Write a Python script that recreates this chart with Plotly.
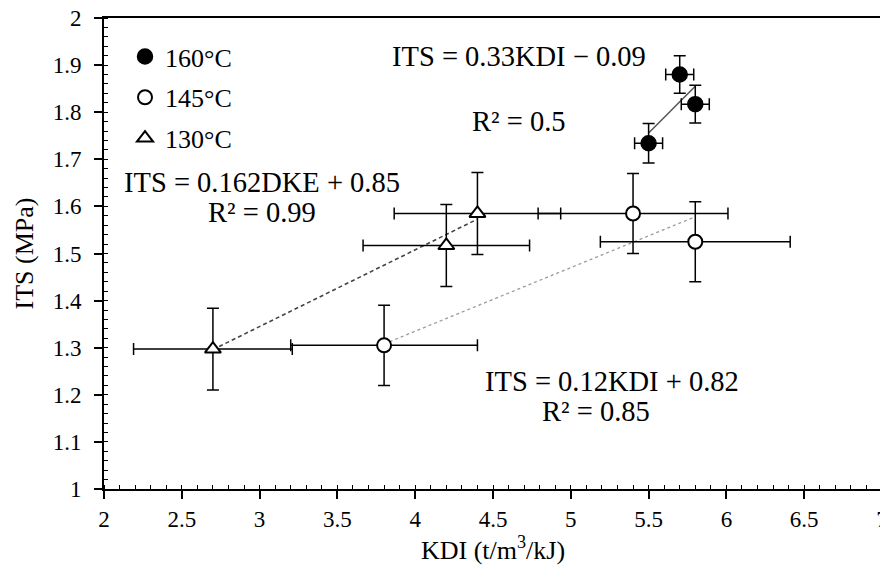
import plotly.graph_objects as go

# ---- data ----
kdi_160 = [5.5, 5.7, 5.8]
its_160 = [1.734, 1.880, 1.817]
kdi_err_160 = [0.09, 0.09, 0.09]
its_err_160 = [0.042, 0.040, 0.040]

kdi_145 = [3.8, 5.4, 5.8]
its_145 = [1.305, 1.585, 1.525]
kdi_err_145 = [0.60, 0.61, 0.61]
its_err_145 = [0.085, 0.085, 0.085]

kdi_130 = [2.7, 4.2, 4.4]
its_130 = [1.297, 1.517, 1.585]
kdi_err_130 = [0.51, 0.535, 0.535]
its_err_130 = [0.087, 0.087, 0.087]

trend_160_x = [5.5, 5.8]
trend_160_y = [1.756, 1.855]
trend_145_x = [3.8, 5.8]
trend_145_y = [1.308, 1.578]
trend_130_x = [2.7, 4.4]
trend_130_y = [1.296, 1.573]

series_names = ["160°C", "145°C", "130°C"]

FONT = "Liberation Serif"

fig = go.Figure()

# trend lines
fig.add_trace(go.Scatter(x=trend_160_x, y=trend_160_y, mode="lines",
                         line=dict(color="#555555", width=1.5), showlegend=False, hoverinfo="skip"))
fig.add_trace(go.Scatter(x=trend_145_x, y=trend_145_y, mode="lines",
                         line=dict(color="#9a9a9a", width=1.3, dash="dot"), showlegend=False, hoverinfo="skip"))
fig.add_trace(go.Scatter(x=trend_130_x, y=trend_130_y, mode="lines",
                         line=dict(color="#444444", width=1.6, dash="4px,3px"), showlegend=False, hoverinfo="skip"))

def err(arr):
    return dict(type="data", array=arr, visible=True, color="black", thickness=1.5, width=6)

fig.add_trace(go.Scatter(
    x=kdi_160, y=its_160, mode="markers", name=series_names[0], legendgroup="a",
    marker=dict(symbol="circle", size=15, color="black", line=dict(color="black", width=1.5)),
    error_x=err(kdi_err_160), error_y=err(its_err_160)))
fig.add_trace(go.Scatter(
    x=kdi_145, y=its_145, mode="markers", name=series_names[1], legendgroup="b",
    marker=dict(symbol="circle", size=14, color="white", line=dict(color="black", width=2)),
    error_x=err(kdi_err_145), error_y=err(its_err_145)))
fig.add_trace(go.Scatter(
    x=kdi_130, y=its_130, mode="markers", name=series_names[2], legendgroup="c",
    marker=dict(symbol="triangle-up", size=14, color="white", line=dict(color="black", width=2)),
    error_x=err(kdi_err_130), error_y=err(its_err_130)))

ann_font = dict(family=FONT, size=28.5, color="black")
annotations = [
    dict(x=4.664, y=1.918, text="ITS = 0.33KDI − 0.09"),
    dict(x=4.664, y=1.780, text="R² = 0.5"),
    dict(x=3.015, y=1.650, text="ITS = 0.162DKE + 0.85"),
    dict(x=3.015, y=1.587, text="R² = 0.99"),
    dict(x=5.265, y=1.229, text="ITS = 0.12KDI + 0.82"),
    dict(x=5.16, y=1.165, text="R² = 0.85"),
]
for a in annotations:
    a.update(xref="x", yref="y", showarrow=False, font=ann_font, xanchor="center", yanchor="middle")

tick_font = dict(family=FONT, size=23, color="black")

axis_common = dict(
    showline=True, linecolor="black", linewidth=2, mirror=True,
    showgrid=False, zeroline=False, automargin=False, ticklabeloverflow="allow",
    ticks="outside", ticklen=8, tickwidth=1.5, tickcolor="black",
)

# page body has an 8px margin: figure is 880x563 so that it fills the 888x571 window
fig.update_layout(
    width=880, height=563,
    margin=dict(l=96, r=6, t=9.5, b=81.5),
    plot_bgcolor="white", paper_bgcolor="white",
    font=dict(family=FONT, color="black", size=23),
    xaxis=dict(range=[2, 7], dtick=0.5, tick0=2, ticklabelstandoff=0, tickfont=tick_font,
               minor=dict(dtick=0.1, ticks="inside", ticklen=4, tickwidth=1.2, tickcolor="black"),
               title=dict(text="KDI (t/m<sup>3</sup>/kJ)", font=dict(family=FONT, size=26), standoff=10),
               **axis_common),
    yaxis=dict(range=[1, 2], dtick=0.1, tick0=1, ticklabelstandoff=8, tickfont=tick_font,
               minor=dict(dtick=0.02, ticks="inside", ticklen=4, tickwidth=1.2, tickcolor="black"),
               title=dict(text="ITS (MPa)", font=dict(family=FONT, size=26), standoff=12),
               **axis_common),
    legend=dict(x=0.027, y=0.968, xanchor="left", yanchor="top",
                bgcolor="rgba(0,0,0,0)", traceorder="grouped", tracegroupgap=4,
                font=dict(family=FONT, size=26, color="black"), itemwidth=30),
    annotations=annotations,
)

fig.write_html("out.html")
